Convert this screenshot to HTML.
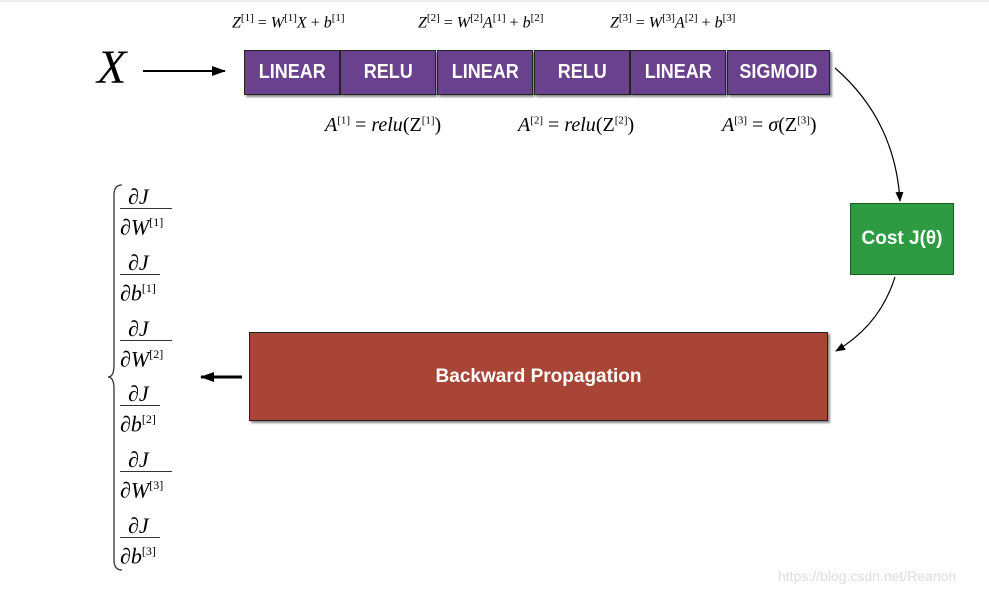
<!DOCTYPE html>
<html><head><style>
body{margin:0;width:989px;height:595px;background:#fff;position:relative;overflow:hidden;font-family:"Liberation Serif",serif}
.b{position:absolute;top:50px;height:43px;background:#69418c;border:1px solid #222;box-shadow:2px 2px 2px #888;color:#fff;font:bold 20px "Liberation Sans",sans-serif;display:flex;align-items:center;justify-content:center}
.b span{display:inline-block;transform:scaleX(0.9)}
.t{position:absolute;font-size:16px;white-space:nowrap}
.t i{font-style:italic}
sup{font-size:11px}
.a{position:absolute;font-size:20px;white-space:nowrap}
.f{position:absolute;left:120px;width:52px;text-align:left;font-size:22px;line-height:22px}
.f .n{padding-left:8px;font-style:italic}
.f .d{border-top:1.5px solid #333;font-style:italic;padding-top:2px}
.f sup{font-style:normal;font-size:12px}
</style></head><body>
<div style="position:absolute;top:0;left:0;width:989px;height:2px;background:#eee"></div>
<div style="position:absolute;left:97px;top:40px;font:italic 48px 'Liberation Serif',serif">X</div>
<svg style="position:absolute;left:0;top:0" width="989" height="595">
<defs><marker id="m" markerUnits="userSpaceOnUse" markerWidth="14" markerHeight="10" refX="13" refY="5" orient="auto"><path d="M0,0L14,5L0,10z" fill="#000"/></marker>
<marker id="s" markerUnits="userSpaceOnUse" markerWidth="10" markerHeight="8" refX="9" refY="4" orient="auto"><path d="M0,0L10,4L0,8z" fill="#000"/></marker></defs>
<line x1="143" y1="71" x2="225" y2="71" stroke="#000" stroke-width="2" marker-end="url(#m)"/>
<path d="M835,68 Q895,120 900,201" fill="none" stroke="#000" stroke-width="1.2" marker-end="url(#s)"/>
<path d="M895,277 Q880,325 836,351" fill="none" stroke="#000" stroke-width="1.2" marker-end="url(#s)"/>
<line x1="242" y1="377" x2="201" y2="377" stroke="#000" stroke-width="3" marker-end="url(#m)"/>
<path d="M122,185 Q114,185 114,195 L114,365 Q114,377 108,377 Q114,377 114,389 L114,560 Q114,570 122,570" fill="none" stroke="#333" stroke-width="1.3"/>
</svg>
<div class="b" style="left:244px;width:94px"><span>LINEAR</span></div>
<div class="b" style="left:340px;width:94px"><span>RELU</span></div>
<div class="b" style="left:437px;width:94px"><span>LINEAR</span></div>
<div class="b" style="left:534px;width:94px"><span>RELU</span></div>
<div class="b" style="left:630px;width:94px"><span>LINEAR</span></div>
<div class="b" style="left:727px;width:101px"><span>SIGMOID</span></div>
<div class="t" style="left:232px;top:12px"><i>Z</i><sup>[1]</sup> = <i>W</i><sup>[1]</sup><i>X</i> + <i>b</i><sup>[1]</sup></div>
<div class="t" style="left:418px;top:12px"><i>Z</i><sup>[2]</sup> = <i>W</i><sup>[2]</sup><i>A</i><sup>[1]</sup> + <i>b</i><sup>[2]</sup></div>
<div class="t" style="left:610px;top:12px"><i>Z</i><sup>[3]</sup> = <i>W</i><sup>[3]</sup><i>A</i><sup>[2]</sup> + <i>b</i><sup>[3]</sup></div>
<div class="a" style="left:325px;top:114px"><i>A</i><sup>[1]</sup> = <i>relu</i>(Z<sup>[1]</sup>)</div>
<div class="a" style="left:518px;top:114px"><i>A</i><sup>[2]</sup> = <i>relu</i>(Z<sup>[2]</sup>)</div>
<div class="a" style="left:722px;top:114px"><i>A</i><sup>[3]</sup> = <i>σ</i>(Z<sup>[3]</sup>)</div>
<div style="position:absolute;left:850px;top:203px;width:102px;height:70px;background:#2e9a42;border:1px solid #1c5a28;color:#fff;font:bold 19px 'Liberation Sans',sans-serif;display:flex;align-items:center;justify-content:center">Cost J(θ)</div>
<div style="position:absolute;left:249px;top:332px;width:577px;height:87px;background:#a84536;border:1px solid #222;box-shadow:2px 2px 2px #888;color:#fff;font:bold 19px 'Liberation Sans',sans-serif;display:flex;align-items:center;justify-content:center">Backward Propagation</div>
<div class="f" style="top:186px"><div class="n">∂J</div><div class="d">∂W<sup>[1]</sup></div></div>
<div class="f" style="top:252px;width:40px"><div class="n">∂J</div><div class="d">∂b<sup>[1]</sup></div></div>
<div class="f" style="top:318px"><div class="n">∂J</div><div class="d">∂W<sup>[2]</sup></div></div>
<div class="f" style="top:383px;width:40px"><div class="n">∂J</div><div class="d">∂b<sup>[2]</sup></div></div>
<div class="f" style="top:449px"><div class="n">∂J</div><div class="d">∂W<sup>[3]</sup></div></div>
<div class="f" style="top:515px;width:40px"><div class="n">∂J</div><div class="d">∂b<sup>[3]</sup></div></div>
<div style="position:absolute;left:778px;top:568px;font:14px 'Liberation Sans',sans-serif;color:#ddd">https://blog.csdn.net/Reanon</div>
</body></html>
